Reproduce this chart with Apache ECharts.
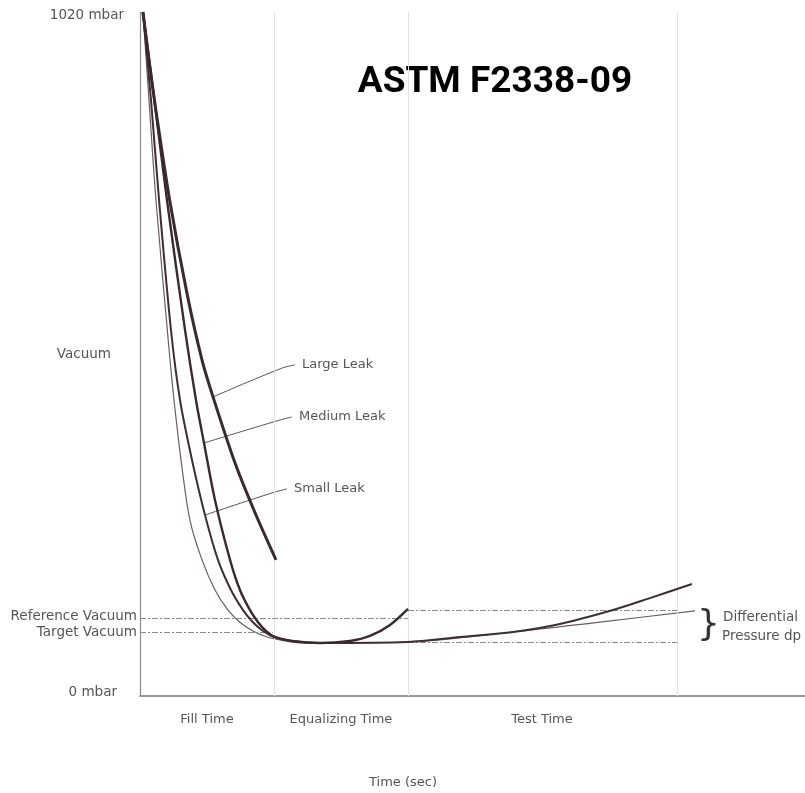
<!DOCTYPE html>
<html><head><meta charset="utf-8">
<script src="https://cdn.jsdelivr.net/npm/echarts@6/dist/echarts.min.js"></script>
<style>html,body{margin:0;padding:0;background:#fff}#c{width:805px;height:793px}</style>
</head><body><div id="c"></div>
<script>
// ---- data (x in time units: 1 unit = one fill-time span; y in mbar) ----
const chartTitle = 'ASTM F2338-09';
const yMin = 0, yMax = 1020;
const xMin = 0, xMax = 4.963;
const phaseBounds = [1, 2, 4.01];
const phaseNames = ['Fill Time', 'Equalizing Time', 'Test Time'];
const phaseMids = [0.5, 1.5, 3.0];
const referenceVacuum = 116.3;
const targetVacuum = 95.4;
const dpUpper = 128.2;
const dpLower = 80.5;
const yLabels = ['1020 mbar', 'Vacuum', '0 mbar'];
const yLabelValues = [1015, 510, 5];
const refLabels = ['Reference Vacuum', 'Target Vacuum'];
const dpLabel = ['Differential', 'Pressure dp'];
const xAxisName = 'Time (sec)';

const largeLeak = [[0.022,1020],[0.066,950],[0.114,880],[0.221,740],[0.351,600],[0.464,500],[0.545,446],[0.710,347],[0.857,274],[1.015,203]];
const mediumLeak = [[0.022,1020],[0.107,889],[0.201,740],[0.336,546],[0.418,441],[0.478,377],[0.560,292],[0.672,203],[0.746,158],[0.821,128],[0.881,110],[0.940,97],[1.007,88],[1.134,82],[1.343,79],[1.567,82],[1.716,89.5],[1.866,106],[2.0,130]];
const smallLeak = [[0.022,1020],[0.082,889],[0.142,740],[0.231,546],[0.299,441],[0.388,352],[0.485,270],[0.582,203],[0.679,158],[0.769,128],[0.843,110],[0.918,97],[1.0,88],[1.134,82],[1.343,79],[2.0,80.5],[2.388,88],[2.784,95.4],[3.134,107.4],[3.530,128.2],[3.806,146],[4.119,167]];
const noLeak = [[0.022,1020],[0.067,889],[0.119,740],[0.224,501],[0.254,441],[0.306,352],[0.373,262],[0.463,203],[0.560,158],[0.657,128],[0.746,110],[0.843,97],[0.948,88],[1.082,82],[1.216,79],[2.0,80.5],[2.784,95.4],[3.433,110.3],[4.142,126.8]];

const leakNames = ['Large Leak', 'Medium Leak', 'Small Leak'];
// from the curve out to the label
const pointerLarge = [[0.545,446],[1.06,489],[1.157,493.6]];
const pointerMedium = [[0.478,377.3],[1.045,411.6],[1.134,416]];
const pointerSmall = [[0.485,269.9],[1.007,304.2],[1.097,308.7]];

// ---- chart ----
const FONT = 'DejaVu Sans, Verdana, sans-serif';
const TXT = '#555';
const chart = echarts.init(document.getElementById('c'), null, {renderer: 'canvas'});

function curve(data, width, color, z) {
  return {type: 'line', data: data, showSymbol: false, symbol: 'none', smooth: 0.3,
    lineStyle: {width: width, color: color}, z: z, silent: true, clip: false};
}
function pointer(data, name) {
  return {type: 'line', data: data, showSymbol: false, symbol: 'none', smooth: 0.4,
    lineStyle: {width: 1, color: '#555'}, z: 3, silent: true,
    endLabel: {show: true, formatter: name, distance: 7, fontFamily: FONT, fontSize: 13, color: TXT}};
}
const dash = [6, 2, 2, 2];

const option = {
  animation: false,
  backgroundColor: '#fff',
  grid: {left: 140, right: 0, top: 12, bottom: 97, containLabel: false},
  xAxis: {type: 'value', min: xMin, max: xMax,
    axisLine: {show: true, lineStyle: {color: '#999', width: 2}},
    axisTick: {show: false}, axisLabel: {show: false}, splitLine: {show: false}},
  yAxis: {type: 'value', min: yMin, max: yMax,
    axisLine: {show: true, lineStyle: {color: '#8a8a8a', width: 1.2}},
    axisTick: {show: false}, axisLabel: {show: false}, splitLine: {show: false}},
  series: [
    {type: 'line', data: [], silent: true,
      markLine: {silent: true, symbol: 'none', label: {show: false},
        lineStyle: {color: '#e2e2e2', width: 1, type: 'solid'},
        data: phaseBounds.map(v => ({xAxis: v}))}},
    {type: 'line', data: [], silent: true,
      markLine: {silent: true, symbol: 'none', label: {show: false},
        lineStyle: {color: '#8a8a8a', width: 1, type: dash},
        data: [
          [{coord: [0, referenceVacuum]}, {coord: [phaseBounds[1], referenceVacuum]}],
          [{coord: [0, targetVacuum]}, {coord: [phaseBounds[0] - 0.01, targetVacuum]}],
          [{coord: [phaseBounds[1], dpUpper]}, {coord: [phaseBounds[2], dpUpper]}],
          [{coord: [phaseBounds[1], dpLower]}, {coord: [phaseBounds[2], dpLower]}]
        ]}},
    curve(noLeak, 1.2, '#6b5c5f', 4),
    curve(smallLeak, 2, '#3f2e32', 5),
    curve(mediumLeak, 2.4, '#3a2a2e', 6),
    curve(largeLeak, 3, '#3a2a2e', 7),
    pointer(pointerLarge, leakNames[0]),
    pointer(pointerMedium, leakNames[1]),
    pointer(pointerSmall, leakNames[2])
  ]
};
chart.setOption(option);

const px = (x, y) => chart.convertToPixel({gridIndex: 0}, [x, y]);
function txt(t, x, y, align, size, extra) {
  return Object.assign({type: 'text', x: x, y: y, silent: true,
    style: Object.assign({text: t, fontFamily: FONT, fontSize: size || 13.5, fill: TXT,
      textAlign: align || 'left', align: align || 'left',
      textVerticalAlign: 'middle', verticalAlign: 'middle'}, extra || {})});
}
const g = [];
g.push(txt(chartTitle, 495, 83, 'center', 37, {fontFamily: 'Roboto, Arial, sans-serif', fontWeight: 'bold', fill: '#000'}));
yLabels.forEach((t, i) => {
  const p = px(0, yLabelValues[i]);
  g.push(txt(t, i === 0 ? 124 : (i === 1 ? 111 : 117), p[1], 'right', 13.5));
});
const pr = px(0, referenceVacuum), pt = px(0, targetVacuum);
g.push(txt(refLabels[0], 137, pr[1] - 2, 'right', 13.5));
g.push(txt(refLabels[1], 137, pt[1], 'right', 13.5));
phaseNames.forEach((n, i) => {
  const p = px(phaseMids[i], 0);
  g.push(txt(n, p[0], 720, 'center', 13));
});
g.push(txt(xAxisName, px(2, 0)[0] - 5, 783, 'center', 13));
const pu = px(phaseBounds[2], dpUpper), pl = px(phaseBounds[2], dpLower);
g.push(txt('}', 697, (pu[1] + pl[1]) / 2, 'left', 36, {fill: '#333'}));
g.push(txt(dpLabel[0], 723, pu[1] + 7, 'left', 13.5));
g.push(txt(dpLabel[1], 722, pl[1] - 6, 'left', 13.5));
chart.setOption({graphic: {elements: g}});
</script>
</body></html>
